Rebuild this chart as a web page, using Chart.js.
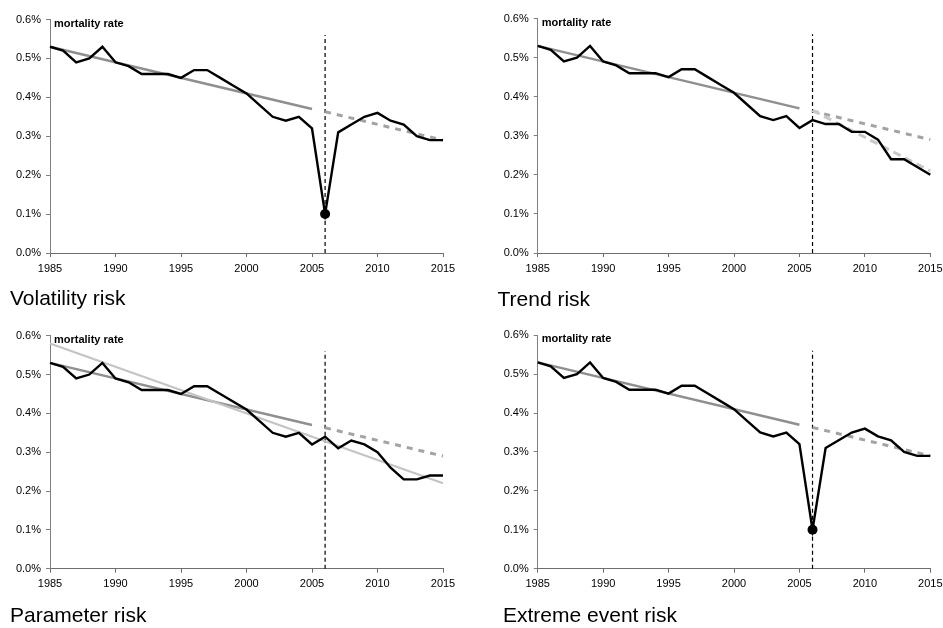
<!DOCTYPE html>
<html>
<head>
<meta charset="utf-8">
<script src="https://cdn.jsdelivr.net/npm/chart.js@4/dist/chart.umd.min.js"></script>
<style>
    body { margin: 0; background: #fff; }
    #wrap { position: relative; width: 943px; height: 628px; overflow: hidden; }
    #wrap canvas { position: absolute; }
</style>
</head>
<body>
<div id="wrap">
    <canvas id="c1"></canvas>
    <canvas id="c2"></canvas>
    <canvas id="c3"></canvas>
    <canvas id="c4"></canvas>
</div>
<script>
// Observed mortality rate (%), 1985-2005
const historyYears = [1985, 1986, 1987, 1988, 1989, 1990, 1991, 1992, 1993, 1994, 1995,
    1996, 1997, 1998, 1999, 2000, 2001, 2002, 2003, 2004, 2005];
const historyRate = [0.53, 0.52, 0.49, 0.50, 0.53, 0.49, 0.48, 0.46, 0.46, 0.46, 0.45,
    0.47, 0.47, 0.45, 0.43, 0.41, 0.38, 0.35, 0.34, 0.35, 0.32];

// Scenario paths (%), 2006-2015
const futureYears = [2006, 2007, 2008, 2009, 2010, 2011, 2012, 2013, 2014, 2015];
const volatilityRate = [0.10, 0.31, 0.33, 0.35, 0.36, 0.34, 0.33, 0.30, 0.29, 0.29];
const trendRate = [0.34, 0.33, 0.33, 0.31, 0.31, 0.29, 0.24, 0.24, 0.22, 0.20];
const parameterRate = [0.34, 0.31, 0.33, 0.32, 0.30, 0.26, 0.23, 0.23, 0.24, 0.24];
const extremeRate = [0.10, 0.31, 0.33, 0.35, 0.36, 0.34, 0.33, 0.30, 0.29, 0.29];

// Fitted trend and its projection
const fitYears = [1985, 2005];
const fitRate = [0.53, 0.37];
const projYears = [2006, 2015];
const projRate = [0.363, 0.29];

// Alternative trends
const newTrendYears = [2006, 2015];
const newTrendRate = [0.365, 0.21];
const refitYears = [1985, 2015];
const refitRate = [0.58, 0.22];

// Event marker
const eventYears = [2006, 2006];
const eventRate = [0, 0.56];

const xTicks = [1985, 1990, 1995, 2000, 2005, 2010, 2015];
const yTicks = [0, 0.1, 0.2, 0.3, 0.4, 0.5, 0.6];

const FONT = '"Liberation Sans", Arial, sans-serif';

const pts = (xs, ys) => xs.map((x, i) => ({ x: x, y: ys[i] }));

// right-hand canvases run past the page edge so the 2015 label never squeezes the plot
const panels = [
    { id: 'c1', title: 'Volatility risk', future: volatilityRate, dot: true, extra: null,
      box: { left: 0, top: 0, w: 480, h: 310 }, area: { l: 50, t: 19.5, r: 443, b: 253 }, titleAt: [10, 305] },
    { id: 'c2', title: 'Trend risk', future: trendRate, dot: false, extra: 'trend',
      box: { left: 470, top: 0, w: 510, h: 310 }, area: { l: 537.7, t: 18.5, r: 930.3, b: 253 }, titleAt: [497.5, 306] },
    { id: 'c3', title: 'Parameter risk', future: parameterRate, dot: false, extra: 'param',
      box: { left: 0, top: 310, w: 480, h: 318 }, area: { l: 50, t: 335.7, r: 443, b: 568.7 }, titleAt: [10, 621.5] },
    { id: 'c4', title: 'Extreme event risk', future: extremeRate, dot: true, extra: null,
      box: { left: 470, top: 310, w: 510, h: 318 }, area: { l: 537.7, t: 335.2, r: 930.3, b: 568.7 }, titleAt: [503, 621.5] }
];

function buildPanel(p) {
    const cv = document.getElementById(p.id);
    cv.width = p.box.w;
    cv.height = p.box.h;
    cv.style.left = p.box.left + 'px';
    cv.style.top = p.box.top + 'px';

    const yWidth = p.area.l - p.box.left;
    const padTop = p.area.t - p.box.top;
    const padRight = p.box.left + p.box.w - p.area.r;
    const xHeight = p.box.top + p.box.h - p.area.b;

    const datasets = [];
    if (p.dot) {
        datasets.push({
            data: [{ x: futureYears[0], y: p.future[0] }],
            showLine: false, pointRadius: 5, pointBackgroundColor: '#000', pointBorderWidth: 0
        });
    }
    datasets.push({
        data: pts(historyYears.concat(futureYears), historyRate.concat(p.future)),
        borderColor: '#000', borderWidth: 2.4, pointRadius: 0, tension: 0
    });
    if (p.extra === 'trend') {
        datasets.push({
            data: pts(newTrendYears, newTrendRate),
            borderColor: '#c8c8c8', borderWidth: 3, borderDash: [8, 5], pointRadius: 0
        });
    }
    if (p.extra === 'param') {
        datasets.push({
            data: pts(refitYears, refitRate),
            borderColor: '#c4c4c4', borderWidth: 2.2, pointRadius: 0
        });
    }
    datasets.push({
        data: pts(fitYears, fitRate),
        borderColor: '#8f8f8f', borderWidth: 2.4, pointRadius: 0
    });
    datasets.push({
        data: pts(projYears, projRate),
        borderColor: '#a3a3a3', borderWidth: 3, borderDash: [6, 6], pointRadius: 0
    });
    datasets.push({
        data: pts(eventYears, eventRate),
        borderColor: '#000', borderWidth: 1.2, borderDash: [4, 3], pointRadius: 0
    });
    datasets.forEach(d => { d.clip = false; d.fill = false; });

    const labels = {
        id: 'labels',
        afterDraw(chart) {
            const ctx = chart.ctx;
            ctx.save();
            ctx.fillStyle = '#000';
            ctx.textBaseline = 'alphabetic';
            ctx.textAlign = 'left';
            ctx.font = 'bold 11px ' + FONT;
            ctx.fillText('mortality rate', chart.chartArea.left + 4, chart.chartArea.top + 7);
            ctx.font = '21px ' + FONT;
            ctx.fillText(p.title, p.titleAt[0] - p.box.left, p.titleAt[1] - p.box.top);
            ctx.restore();
        }
    };

    new Chart(cv, {
        type: 'line',
        data: { datasets: datasets },
        options: {
            responsive: false,
            animation: false,
            devicePixelRatio: 1,
            layout: { padding: { top: padTop, right: padRight, left: 0, bottom: 0 } },
            plugins: { legend: { display: false }, tooltip: { enabled: false } },
            scales: {
                x: {
                    type: 'linear', min: 1985, max: 2015,
                    afterFit(s) { s.height = xHeight; },
                    afterBuildTicks(s) { s.ticks = xTicks.map(v => ({ value: v })); },
                    ticks: { callback: v => String(v), color: '#000', font: { family: FONT, size: 11 }, padding: 5, maxRotation: 0 },
                    grid: { drawOnChartArea: false, drawTicks: true, tickLength: 4, color: '#6e6e6e' },
                    border: { display: true, color: '#6e6e6e', width: 1 }
                },
                y: {
                    min: 0, max: 0.6,
                    afterFit(s) { s.width = yWidth; },
                    afterBuildTicks(s) { s.ticks = yTicks.map(v => ({ value: v })); },
                    ticks: { callback: v => v.toFixed(1) + '%', color: '#000', font: { family: FONT, size: 11 }, padding: 5 },
                    grid: { drawOnChartArea: false, drawTicks: true, tickLength: 4, color: '#808080' },
                    border: { display: true, color: '#808080', width: 1 }
                }
            }
        },
        plugins: [labels]
    });
}

panels.forEach(buildPanel);
</script>
</body>
</html>
